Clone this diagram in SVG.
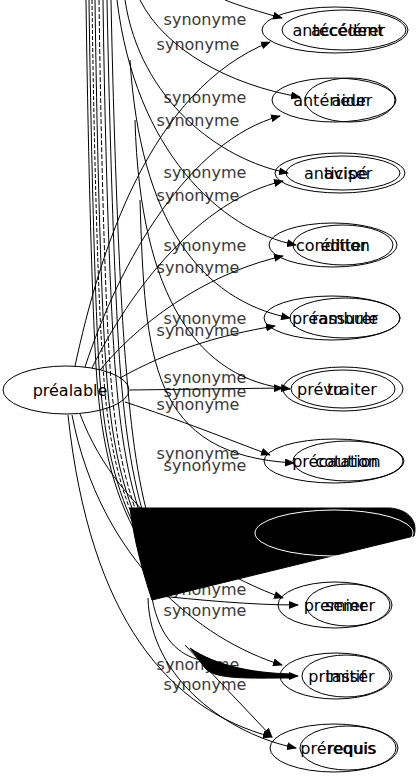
<svg xmlns="http://www.w3.org/2000/svg" width="418" height="779" viewBox="0 0 418 779">
<defs>
<marker id="ah" markerWidth="10" markerHeight="8" refX="9" refY="4" orient="auto" markerUnits="userSpaceOnUse"><path d="M0,0 L10,4 L0,8 Z" fill="#000"/></marker>
<style>
.e{fill:none;stroke:#000;stroke-width:1}
.ed{fill:none;stroke:#000;stroke-width:1;marker-end:url(#ah)}
.l{font-family:"DejaVu Sans",sans-serif;font-size:16px;fill:#3a3a3a;text-anchor:middle}
.t{font-family:"DejaVu Sans",sans-serif;font-size:16px;fill:#000;text-anchor:middle}
.n{fill:none;stroke:#000;stroke-width:1}
</style>
</defs>
<rect width="418" height="779" fill="#fff"/>
<g id="labels">
<text class="l" x="205" y="25">synonyme</text>
<text class="l" x="198" y="50">synonyme</text>
<text class="l" x="205" y="103">synonyme</text>
<text class="l" x="198" y="126">synonyme</text>
<text class="l" x="205" y="178">synonyme</text>
<text class="l" x="198" y="201">synonyme</text>
<text class="l" x="205" y="251">synonyme</text>
<text class="l" x="198" y="273">synonyme</text>
<text class="l" x="205" y="324">synonyme</text>
<text class="l" x="198" y="336">synonyme</text>
<text class="l" x="205" y="383">synonyme</text>
<text class="l" x="205" y="397">synonyme</text>
<text class="l" x="198" y="410">synonyme</text>
<text class="l" x="198" y="459">synonyme</text>
<text class="l" x="205" y="471">synonyme</text>
<text class="l" x="205" y="595">synonyme</text>
<text class="l" x="205" y="616">synonyme</text>
<text class="l" x="198" y="670">synonyme</text>
<text class="l" x="205" y="690">synonyme</text>
</g>
<g id="connectors">
<path class="e" d="M86,0 C88,150 92,300 96,366 C100,430 110,490 140,540"/>
<path class="e" d="M89,0 C91,150 95,300 99,366 C103,430 113,490 142,540"/>
<path class="e" stroke-dasharray="4,2" d="M92,0 C94,150 98,300 103,366 C107,430 117,490 144,540"/>
<path class="e" d="M95,0 C97,150 101,300 106,366 C110,430 120,490 146,540"/>
<path class="e" stroke-dasharray="5,2" d="M99,0 C101,150 105,300 110,366 C114,430 124,490 148,540"/>
<path class="e" d="M103,0 C105,150 110,300 115,366 C120,430 128,490 150,540"/>
<path class="e" d="M107,0 C110,150 115,300 120,366 C125,430 133,490 152,540"/>
<path class="e" d="M111,0 C114,150 120,300 126,366 C131,430 138,490 155,540"/>
<path class="ed" d="M225,0 C240,6 260,12 282,18"/>
<path class="ed" d="M140,0 C165,50 230,85 300,97"/>
<path class="ed" d="M125,0 C140,100 220,160 288,173"/>
<path class="ed" d="M117,0 C135,150 220,230 296,245"/>
<path class="ed" d="M130,60 C140,220 200,300 290,318"/>
<path class="ed" d="M135,120 C140,300 200,380 290,389"/>
<path class="ed" d="M140,200 C145,360 150,455 294,463"/>
<path class="ed" d="M75,366 C100,250 150,90 270,42"/>
<path class="ed" d="M85,367 C120,260 190,140 280,116"/>
<path class="ed" d="M92,368 C130,290 200,200 283,181"/>
<path class="ed" d="M100,370 C150,310 220,270 283,256"/>
<path class="ed" d="M120,378 C170,350 220,335 275,326"/>
<path class="ed" d="M130,390 L283,388"/>
<path class="ed" d="M125,402 C180,420 230,440 270,455"/>
<path class="ed" d="M80,414 C120,520 220,575 283,598"/>
<path class="ed" d="M72,415 C100,560 200,640 282,665"/>
<path class="ed" d="M68,415 C90,620 170,710 272,737"/>
<path class="ed" d="M150,595 C200,600 250,605 298,605"/>
<path class="ed" d="M148,598 C150,680 230,735 296,748"/>
<path class="e" d="M152,598 C160,640 180,655 200,660"/>
<path class="ed" d="M185,645 L272,737"/>
<path fill="#000" stroke="#000" d="M190,648 C215,665 250,673 292,674 L292,678 C250,678 215,680 205,668 Z"/>
<path class="ed" d="M292,676 L298,676"/>
<path fill="#000" stroke="#000" d="M130,508 L390,508 C410,510 418,522 414,536 L152,600 C142,570 134,540 130,508 Z"/>
</g>
<g id="n-prealable">
<ellipse class="n" cx="66" cy="390" rx="63" ry="24"/>
<text class="t" x="70" y="396">préalable</text>
</g>
<g id="n-antecedent">
<ellipse class="n" cx="335" cy="30" rx="73" ry="23"/>
<ellipse class="n" cx="344" cy="30" rx="62" ry="20"/>
<text class="t" x="338" y="36">antécédent</text>
<text class="t" x="348" y="36">accélérer</text>
</g>
<g id="n-anterieur">
<ellipse class="n" cx="334" cy="100" rx="62" ry="22"/>
<ellipse class="n" cx="350" cy="100" rx="45" ry="22"/>
<text class="t" x="330" y="106">antérieur</text>
<text class="t" x="352" y="106">aider</text>
</g>
<g id="n-anticipe">
<ellipse class="n" cx="340" cy="173" rx="65" ry="20"/>
<ellipse class="n" cx="343" cy="173" rx="57" ry="17"/>
<text class="t" x="336" y="179">anticipé</text>
<text class="t" x="348" y="179">aviser</text>
</g>
<g id="n-condition">
<ellipse class="n" cx="333" cy="245" rx="64" ry="22"/>
<ellipse class="n" cx="343" cy="245" rx="50" ry="20"/>
<text class="t" x="333" y="251">condition</text>
<text class="t" x="344" y="251">éditer</text>
</g>
<g id="n-preambule">
<ellipse class="n" cx="332" cy="318" rx="68" ry="22"/>
<ellipse class="n" cx="345" cy="318" rx="55" ry="20"/>
<text class="t" x="335" y="324">préambule</text>
<text class="t" x="345" y="324">rassurer</text>
</g>
<g id="n-prevu">
<ellipse class="n" cx="343" cy="389" rx="60" ry="22"/>
<ellipse class="n" cx="343" cy="389" rx="52" ry="19"/>
<text class="t" x="320" y="395">prévu</text>
<text class="t" x="352" y="395">traiter</text>
</g>
<g id="n-precaution">
<ellipse class="n" cx="334" cy="461" rx="70" ry="22"/>
<ellipse class="n" cx="348" cy="461" rx="55" ry="20"/>
<text class="t" x="335" y="467">précaution</text>
<text class="t" x="348" y="467">cotation</text>
</g>
<g id="n-hidden">
<ellipse cx="334" cy="533" rx="79" ry="23" fill="none" stroke="#fff" stroke-width="1"/>
</g>
<g id="n-premier">
<ellipse class="n" cx="335" cy="605" rx="57" ry="23"/>
<ellipse class="n" cx="348" cy="605" rx="42" ry="21"/>
<text class="t" x="335" y="611">premier</text>
<text class="t" x="350" y="611">semer</text>
</g>
<g id="n-primitif">
<ellipse class="n" cx="336" cy="676" rx="56" ry="23"/>
<ellipse class="n" cx="346" cy="676" rx="44" ry="21"/>
<text class="t" x="337" y="682">primitif</text>
<text class="t" x="350" y="682">tasser</text>
</g>
<g id="n-prerequis">
<ellipse class="n" cx="334" cy="748" rx="64" ry="24"/>
<ellipse class="n" cx="348" cy="748" rx="48" ry="22"/>
<text class="t" x="338" y="754">prérequis</text>
<text class="t" x="352" y="754">requis</text>
</g>
</svg>
